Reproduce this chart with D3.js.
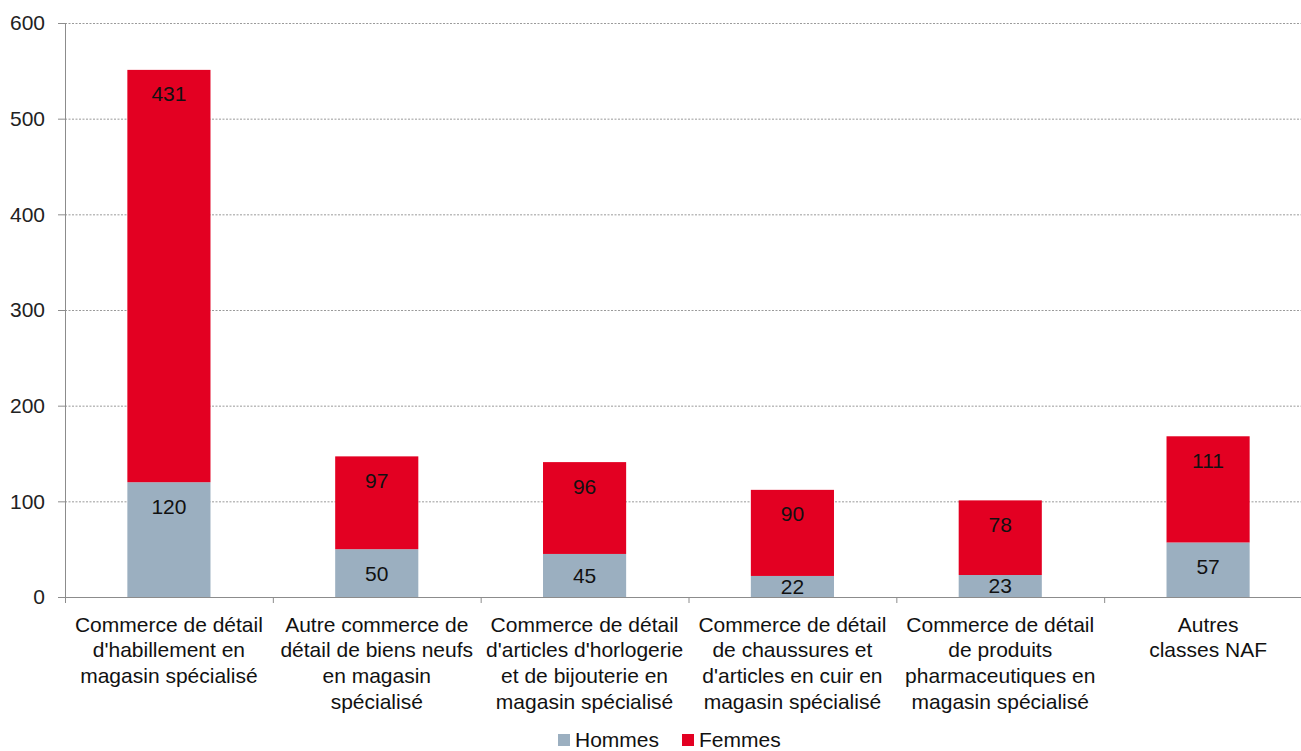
<!DOCTYPE html>
<html><head><meta charset="utf-8">
<script src="https://cdn.jsdelivr.net/npm/d3@7"></script>
<style>body{margin:0;background:#fff;} svg{display:block;font-family:"Liberation Sans",Arial,sans-serif;}</style>
</head><body>
<svg id="c" width="1301" height="751"></svg>
<script>
const categories = [
  ["Commerce de détail","d'habillement en","magasin spécialisé"],
  ["Autre commerce de","détail de biens neufs","en magasin","spécialisé"],
  ["Commerce de détail","d'articles d'horlogerie","et de bijouterie en","magasin spécialisé"],
  ["Commerce de détail","de chaussures et","d'articles en cuir en","magasin spécialisé"],
  ["Commerce de détail","de produits","pharmaceutiques en","magasin spécialisé"],
  ["Autres","classes NAF"]
];
const hommes = [120, 50, 45, 22, 23, 57];
const femmes = [431, 97, 96, 90, 78, 111];
const seriesNames = ["Hommes", "Femmes"];
const yTicks = [0, 100, 200, 300, 400, 500, 600];

(function(){
const colors = {Hommes:"#9bafc0", Femmes:"#e30022"};
const FS = 21;
const svg = d3.select("#c");
const mLeft = 65, mRight = 1312, mTop = 23, mBottom = 597;
const idx = categories.map((d,i)=>i);
const x = d3.scaleBand().domain(idx).range([mLeft, mRight]).paddingInner(0.6).paddingOuter(0.3);
const xOuter = d3.scaleBand().domain(idx).range([mLeft, mRight]);
const y = d3.scaleLinear().domain([0, 600]).range([mBottom, mTop]);

// gridlines
svg.append("g").selectAll("line").data(yTicks.filter(t=>t>0)).join("line")
  .attr("x1", mLeft).attr("x2", 1301).attr("y1", d=>y(d)+0.5).attr("y2", d=>y(d)+0.5)
  .attr("stroke", "#9a9a9a").attr("stroke-width", 1).attr("stroke-dasharray", "2,1.5");

// y axis
const yAxis = d3.axisLeft(y).tickValues(yTicks).tickSize(7).tickPadding(13);
const gy = svg.append("g").attr("transform", `translate(${mLeft},0)`).call(yAxis);
gy.select(".domain").attr("stroke", "#8c8c8c");
gy.selectAll(".tick line").attr("stroke", "#8c8c8c");
gy.selectAll(".tick text").attr("font-size", FS).attr("fill", "#222").attr("font-family", "Liberation Sans, Arial, sans-serif");

// stacked data
const rows = idx.map(i => ({i, Hommes: hommes[i], Femmes: femmes[i]}));
const stack = d3.stack().keys(seriesNames)(rows);

const g = svg.append("g");
stack.forEach(s => {
  g.append("g").selectAll("rect").data(s).join("rect")
    .attr("x", d => x(d.data.i)).attr("width", x.bandwidth())
    .attr("y", d => y(d[1])).attr("height", d => y(d[0]) - y(d[1]))
    .attr("fill", colors[s.key]);
  g.append("g").selectAll("text").data(s).join("text")
    .attr("x", d => x(d.data.i) + x.bandwidth()/2)
    .attr("y", d => {
      const t = y(d[1]), b = y(d[0]);
      return Math.min(t + 24, (t + b)/2) + 7.5;
    })
    .attr("text-anchor", "middle").attr("font-size", FS).attr("fill", "#111")
    .text(d => d[1] - d[0]);
});

// x axis
const xg = svg.append("g");
xg.append("line").attr("x1", mLeft).attr("x2", 1301).attr("y1", mBottom+0.5).attr("y2", mBottom+0.5).attr("stroke", "#8c8c8c");
xg.selectAll("line.tk").data(idx.concat([idx.length])).join("line").attr("class","tk")
  .attr("x1", d => mLeft + d*xOuter.bandwidth()+0.5).attr("x2", d => mLeft + d*xOuter.bandwidth()+0.5)
  .attr("y1", mBottom).attr("y2", mBottom+6).attr("stroke", "#8c8c8c");
categories.forEach((lines, i) => {
  const t = xg.append("text").attr("text-anchor", "middle").attr("font-size", FS).attr("fill", "#111")
    .attr("x", x(i) + x.bandwidth()/2).attr("y", 631.5);
  lines.forEach((l, k) => t.append("tspan").attr("x", x(i) + x.bandwidth()/2).attr("dy", k===0?0:25.8).text(l));
});

// legend
const lg = svg.append("g");
const items = [{k:"Hommes", x:558},{k:"Femmes", x:682}];
items.forEach(it => {
  lg.append("rect").attr("x", it.x).attr("y", 734).attr("width", 12).attr("height", 12).attr("fill", colors[it.k]);
  lg.append("text").attr("x", it.x+17).attr("y", 746.5).attr("font-size", FS).attr("fill", "#111").text(it.k);
});
})();
</script>
</body></html>
